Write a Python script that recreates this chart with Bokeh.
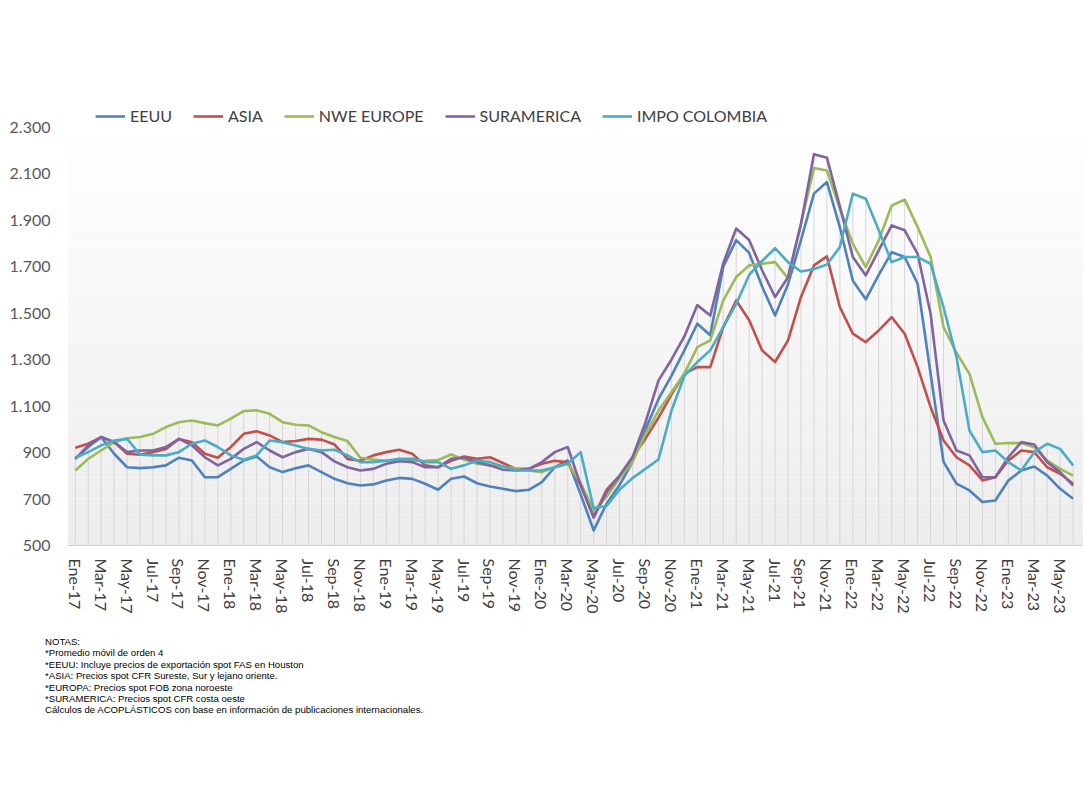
import numpy as np
from bokeh.plotting import figure
from bokeh.models import (FixedTicker, CustomJSTickFormatter, Legend, LegendItem,
                          Range1d, Div)
from bokeh.layouts import column
from bokeh.embed import file_html
from bokeh.resources import INLINE

# ---------------- data ----------------
MONTHS = ["Ene", "Feb", "Mar", "Abr", "May", "Jun", "Jul", "Ago", "Sep", "Oct", "Nov", "Dic"]
YEARS = ["17", "18", "19", "20", "21", "22", "23"]
N_POINTS = 78  # Ene-17 .. Jun-23
month_labels = [f"{MONTHS[i % 12]}-{YEARS[i // 12]}" for i in range(N_POINTS)]

eeuu = [873, 924, 967, 895, 837, 833, 837, 845, 878, 866, 794, 794,
        830, 866, 883, 837, 816, 833, 845, 816, 787, 768, 758, 763,
        780, 791, 787, 766, 740, 787, 797, 768, 754, 744, 734, 740,
        773, 837, 866, 720, 565, 680, 760, 860, 1000, 1130, 1230, 1340,
        1455, 1405, 1700, 1815, 1760, 1615, 1490, 1625, 1815, 2015, 2065, 1870,
        1640, 1560, 1665, 1763, 1742, 1627, 1240, 860, 766, 737, 687, 694,
        780, 823, 840, 801, 744, 701]

asia = [921, 938, 967, 945, 895, 891, 902, 916, 959, 945, 895, 878,
        924, 981, 992, 974, 945, 950, 959, 956, 935, 873, 865, 888,
        902, 912, 895, 845, 837, 865, 883, 873, 880, 855, 830, 830,
        852, 865, 858, 760, 625, 740, 800, 880, 960, 1050, 1150, 1240,
        1268, 1268, 1440, 1555, 1470, 1340, 1290, 1383, 1570, 1706, 1745, 1526,
        1412, 1376, 1426, 1483, 1412, 1268, 1096, 952, 880, 845, 780, 794,
        866, 909, 902, 837, 809, 766]

nwe_europe = [823, 873, 909, 945, 962, 967, 981, 1010, 1031, 1038, 1027, 1017,
              1046, 1079, 1082, 1067, 1031, 1020, 1017, 988, 967, 950, 878, 870,
              865, 865, 865, 865, 868, 892, 870, 852, 845, 840, 830, 823,
              816, 837, 852, 770, 650, 710, 790, 860, 980, 1080, 1160, 1240,
              1354, 1383, 1555, 1656, 1706, 1713, 1720, 1650, 1885, 2125, 2115, 1950,
              1799, 1699, 1814, 1964, 1989, 1871, 1742, 1440, 1330, 1239, 1053, 938,
              941, 941, 923, 866, 830, 801]

suramerica = [873, 931, 967, 945, 902, 909, 909, 924, 959, 931, 880, 845,
              873, 916, 945, 909, 880, 902, 916, 902, 862, 837, 823, 830,
              852, 863, 859, 837, 837, 873, 878, 859, 845, 826, 823, 830,
              859, 902, 924, 760, 620, 730, 800, 880, 1030, 1210, 1300, 1400,
              1535, 1490, 1715, 1865, 1815, 1685, 1570, 1655, 1885, 2185, 2170, 1960,
              1742, 1663, 1771, 1878, 1857, 1756, 1498, 1038, 909, 888, 794, 794,
              880, 945, 935, 859, 816, 758]

impo_colombia = [878, 902, 931, 952, 959, 891, 888, 888, 902, 938, 952, 924,
                 888, 869, 888, 952, 945, 931, 916, 909, 912, 888, 859, 859,
                 865, 873, 873, 859, 859, 830, 845, 865, 859, 840, 823, 823,
                 823, 837, 852, 902, 660, 670, 740, 790, 830, 870, 1080, 1230,
                 1290, 1340, 1440, 1540, 1665, 1725, 1780, 1720, 1680, 1690, 1710, 1785,
                 2015, 1993, 1857, 1720, 1742, 1742, 1713, 1526, 1311, 995, 902, 909,
                 859, 823, 902, 938, 916, 845]

series_names = ["EEUU", "ASIA", "NWE EUROPE", "SURAMERICA", "IMPO COLOMBIA"]
series_values = [eeuu, asia, nwe_europe, suramerica, impo_colombia]
series_colors = ["#4F81BD", "#C0504D", "#9BBB59", "#8064A2", "#4BACC6"]

y_ticks = [500, 700, 900, 1100, 1300, 1500, 1700, 1900, 2100, 2300]
notes = ["NOTAS:",
         "*Promedio móvil de orden 4",
         "*EEUU: Incluye precios de exportación spot FAS en Houston",
         "*ASIA: Precios spot CFR Sureste, Sur y lejano oriente.",
         "*EUROPA: Precios spot FOB zona noroeste",
         "*SURAMERICA: Precios spot CFR costa oeste",
         "Cálculos de ACOPLÁSTICOS con base en información de publicaciones internacionales."]

# ---------------- figure ----------------
Y0, YTOP, Y1 = 500, 2300, 2416
X0, X1 = -0.6, N_POINTS - 0.2
x = np.arange(N_POINTS)

p = figure(width=1083, height=633, output_backend="svg", toolbar_location=None,
           x_range=Range1d(X0, X1), y_range=Range1d(Y0, Y1),
           min_border_left=67, min_border_right=0, min_border_top=100,
           min_border_bottom=88)
p.outline_line_color = None
p.background_fill_color = "white"
p.border_fill_color = "white"
p.grid.visible = False

# gradient background of plot area (white top -> light gray bottom)
nb = 80
edges = np.linspace(Y0, YTOP, nb + 1)
cols = []
for k in range(nb):
    t = (k + 0.5) / nb  # 0 bottom -> 1 top
    g = int(round(236 + (255 - 236) * t))
    cols.append("#%02x%02x%02x" % (g, g, g))
p.quad(left=X0, right=X1, bottom=edges[:-1], top=edges[1:], fill_color=cols,
       line_color=None)

# drop lines
top_vals = np.max(np.array(series_values), axis=0)
p.segment(x0=x, y0=Y0, x1=x, y1=top_vals, line_color="#d6d6d6", line_width=1)

renderers = []
for name, vals, col in zip(series_names, series_values, series_colors):
    r = p.line(x, vals, line_color=col, line_width=2.6, line_join="round")
    renderers.append((name, r))

legend = Legend(items=[LegendItem(label=n, renderers=[r]) for n, r in renderers],
                orientation="horizontal", location=(28, 420),
                label_text_font="Lato", label_text_font_size="16px",
                label_text_color="#404040", glyph_width=30, glyph_height=14,
                label_standoff=5, spacing=21, padding=0, margin=0,
                background_fill_alpha=0, border_line_color=None)
p.add_layout(legend, "center")

# axes
p.yaxis.ticker = FixedTicker(ticks=y_ticks)
p.yaxis.formatter = CustomJSTickFormatter(code="""
    if (tick >= 1000) {
        const th = Math.floor(tick / 1000);
        const r = String(Math.round(tick % 1000)).padStart(3, '0');
        return th + '.' + r;
    }
    return String(tick);
""")
p.yaxis.axis_line_color = None
p.yaxis.major_tick_line_color = None
p.yaxis.minor_tick_line_color = None
p.yaxis.major_label_text_font = "Lato"
p.yaxis.major_label_text_font_size = "16px"
p.yaxis.major_label_text_color = "#595959"
p.yaxis.major_label_standoff = 11

xt = list(range(0, N_POINTS, 2))
p.xaxis.ticker = FixedTicker(ticks=xt)
p.xaxis.major_label_overrides = {i: month_labels[i] for i in xt}
p.xaxis.major_label_orientation = "vertical"
p.xaxis.axis_line_color = "#d0d0d0"
p.xaxis.major_tick_line_color = None
p.xaxis.minor_tick_line_color = None
p.xaxis.major_label_text_font = "Lato"
p.xaxis.major_label_text_font_size = "16px"
p.xaxis.major_label_text_color = "#404040"
p.xaxis.major_label_standoff = 7

div = Div(text="<br>".join(notes), width=1000,
          styles={"font-family": "Liberation Sans, Arial, sans-serif",
                  "font-size": "9.6px", "line-height": "11.4px", "color": "#000"},
          margin=(3, 0, 0, 45))

layout = column(p, div)
open("out.html", "w").write(file_html(layout, INLINE))
